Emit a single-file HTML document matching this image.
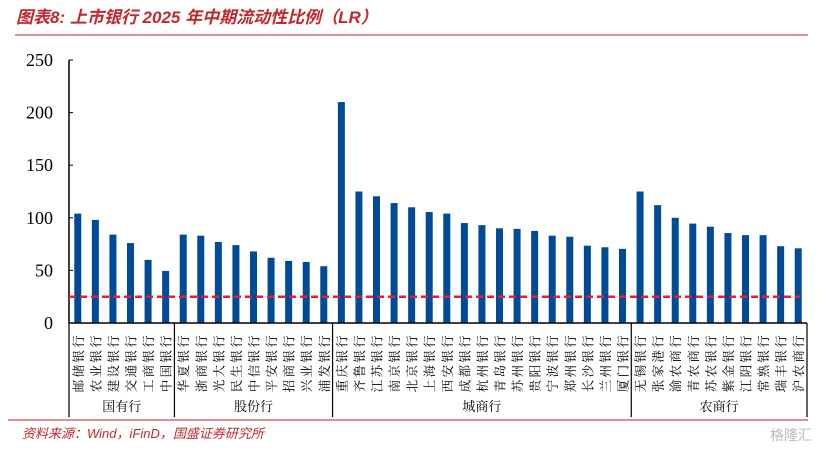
<!DOCTYPE html>
<html><head><meta charset="utf-8"><style>
body{margin:0;background:#fff;}
svg{display:block;}
</style></head><body>
<svg id="chart" width="831" height="450" xmlns="http://www.w3.org/2000/svg">
<text x="16" y="23" font-family="Liberation Sans, Noto Sans CJK SC, sans-serif" font-size="17" font-weight="bold" font-style="italic" fill="#c0282d">图表8:  上市银行 2025 年中期流动性比例（LR）</text>
<line x1="15" y1="35" x2="808" y2="35" stroke="#b3262b" stroke-width="1"/>
<line x1="8" y1="420" x2="808" y2="420" stroke="#b3262b" stroke-width="1"/>
<text x="22" y="438" font-family="Liberation Sans, Noto Sans CJK SC, sans-serif" font-size="13" font-style="italic" fill="#c0282d">资料来源：Wind，iFinD，国盛证券研究所</text>
<text x="770" y="440" font-family="Liberation Sans, Noto Sans CJK SC, sans-serif" font-size="14" fill="#bbb">格隆汇</text>
<g id="plot"></g>
</svg>
<script>
const categories=["邮储银行","农业银行","建设银行","交通银行","工商银行","中国银行","华夏银行","浙商银行","光大银行","民生银行","中信银行","平安银行","招商银行","兴业银行","浦发银行","重庆银行","齐鲁银行","江苏银行","南京银行","北京银行","上海银行","西安银行","成都银行","杭州银行","青岛银行","苏州银行","贵阳银行","宁波银行","郑州银行","长沙银行","兰州银行","厦门银行","无锡银行","张家港行","渝农商行","青农商行","苏农银行","紫金银行","江阴银行","常熟银行","瑞丰银行","沪农商行"];
const values=[104,98,84,76,60,49.5,84,83,77,74,68,62,59,58,54,210,125,120.5,114,110,105.5,104,95,93,90,89.5,87.5,83,82,73.5,72,70.5,125,112,100,94.5,91.5,85.5,83.5,83.5,73,71];
const groups=["国有行","股份行","城商行","农商行"];
const groupSizes=[6,9,17,10];
const yTicks=[0,50,100,150,200,250];
const regLine=25;
const NS="http://www.w3.org/2000/svg";
const g=document.getElementById('plot');
const x0=69,x1=807,yb=323,yt=60,ymax=250;
const band=(x1-x0)/categories.length;
const xs=i=>x0+band*(i+0.5);
const ys=v=>yb-(v/ymax)*(yb-yt);
function mk(t,a){const e=document.createElementNS(NS,t);for(const k in a)e.setAttribute(k,a[k]);g.appendChild(e);return e;}
let ax=mk('line',{x1:x0,y1:yt,x2:x0,y2:yb,stroke:'#000','stroke-width':1.5});


yTicks.forEach(v=>{
 let t=mk('line',{x1:x0,y1:ys(v),x2:x0+4,y2:ys(v),stroke:'#000'});
 
 
 let l=mk('text',{x:x0-16,y:ys(v)+6,'text-anchor':'end','font-family':'Liberation Serif, serif','font-size':18});
 l.textContent=v;
 
 
});
values.forEach((v,i)=>{
 let b=mk('rect',{x:xs(i)-3.5,y:ys(v),width:7,height:yb-ys(v),fill:'#004b97'});
 
 
 let l=mk('text',{transform:`translate(${xs(i)+5},333) rotate(-90)`,'text-anchor':'end','font-family':'Liberation Serif, Noto Serif CJK SC, serif','font-size':12.5,'letter-spacing':'2.3'});
 l.textContent=categories[i];
 
 
});
let rl=mk('line',{x1:x0,y1:ys(regLine),x2:800,y2:ys(regLine),stroke:'#e8202a','stroke-width':2.5,'stroke-dasharray':'7,4'});


let xa=mk('line',{x1:x0,y1:yb,x2:x1,y2:yb,stroke:'#000','stroke-width':1.5});


let start=0;
const sepAt=[0];
groupSizes.forEach(n=>{start+=n;sepAt.push(start);});
sepAt.forEach(k=>{
 let s=mk('line',{x1:x0+band*k,y1:yb,x2:x0+band*k,y2:417,stroke:'#000','stroke-width':1.2});
 
 
});
groups.forEach((n,j)=>{
 const c=x0+band*(sepAt[j]+sepAt[j+1])/2;
 let l=mk('text',{x:c,y:411,'text-anchor':'middle','font-family':'Liberation Serif, Noto Serif CJK SC, serif','font-size':13});
 l.textContent=n;
 
 
});
</script>
</body></html>
